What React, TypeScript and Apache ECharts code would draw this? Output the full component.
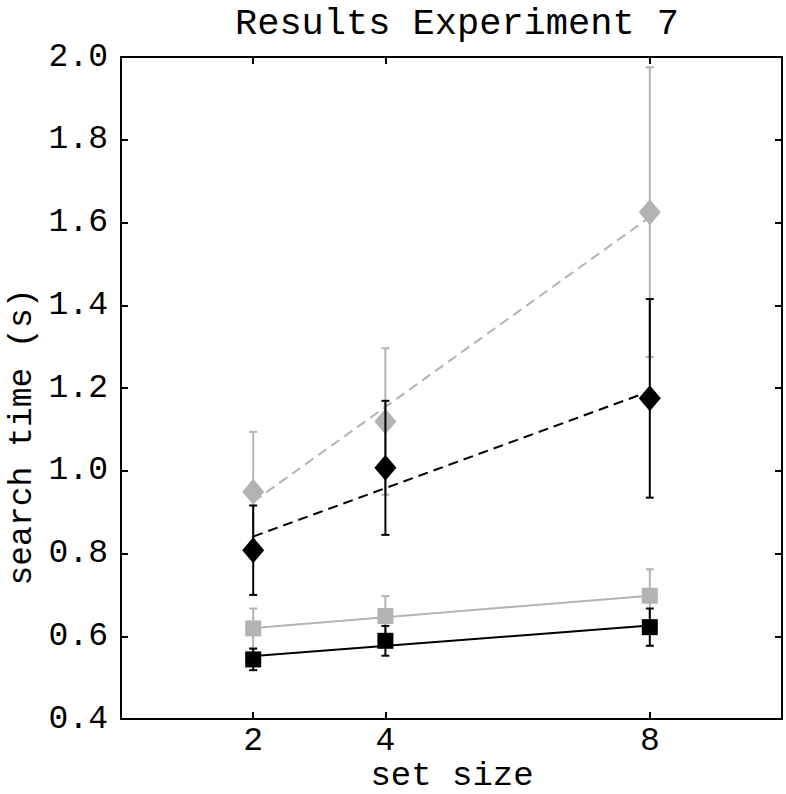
import React, { useEffect, useRef } from "react";
import * as echarts from "echarts";

const setSizes = [2, 4, 8];
const xTickValues = [2, 4, 8];

const blackSquareMean = [0.544, 0.589, 0.622];
const blackSquareErr = [0.026, 0.036, 0.045];
const graySquareMean = [0.619, 0.649, 0.698];
const graySquareErr = [0.048, 0.048, 0.064];
const blackDiamondMean = [0.808, 1.007, 1.175];
const blackDiamondErr = [0.108, 0.162, 0.24];
const grayDiamondMean = [0.949, 1.119, 1.625];
const grayDiamondErr = [0.145, 0.177, 0.35];

const fitX = [2, 8];
const blackSquareFit = [0.552, 0.626];
const graySquareFit = [0.62, 0.698];
const blackDiamondFit = [0.841, 1.192];
const grayDiamondFit = [0.925, 1.613];

const BLACK = "#000000";
const GRAY = "#b3b3b3";
const FONT = "Liberation Mono";

function errSeries(mean: number[], err: number[], color: string, z: number) {
  return {
    type: "custom",
    z,
    silent: true,
    data: setSizes.map((x, i) => [x, mean[i], err[i]]),
    encode: { x: 0, y: 1 },
    renderItem: (params: any, api: any) => {
      const x = api.value(0);
      const y = api.value(1);
      const e = api.value(2);
      const top = api.coord([x, y + e]);
      const bot = api.coord([x, y - e]);
      const half = 4;
      const style = { stroke: color, lineWidth: 2 };
      return {
        type: "group",
        children: [
          { type: "line", shape: { x1: top[0], y1: top[1], x2: bot[0], y2: bot[1] }, style },
          { type: "line", shape: { x1: top[0] - half, y1: top[1], x2: top[0] + half, y2: top[1] }, style },
          { type: "line", shape: { x1: bot[0] - half, y1: bot[1], x2: bot[0] + half, y2: bot[1] }, style },
        ],
      };
    },
  };
}

function fitSeries(fit: number[], color: string, dashed: boolean, z: number) {
  return {
    type: "line",
    z,
    silent: true,
    symbol: "none",
    data: fitX.map((x, i) => [x, fit[i]]),
    lineStyle: { color, width: 2, type: dashed ? [10, 6] : "solid" },
  };
}

function markerSeries(mean: number[], color: string, symbol: string, size: any, z: number) {
  return {
    type: "scatter",
    z,
    silent: true,
    symbol,
    symbolSize: size,
    data: setSizes.map((x, i) => [x, mean[i]]),
    itemStyle: { color, opacity: 1 },
  };
}

export default function App() {
  const ref = useRef<HTMLDivElement>(null);
  useEffect(() => {
    if (!ref.current) return;
    const chart = echarts.init(ref.current, null, { renderer: "svg" });
    const axisLineStyle = { color: BLACK, width: 2 };
    const labelStyle = { fontFamily: FONT, fontSize: 33, color: BLACK };
    chart.setOption({
      animation: false,
      backgroundColor: "#ffffff",
      title: {
        text: "Results Experiment 7",
        left: 452,
        top: 0,
        textAlign: "center",
        textStyle: { fontFamily: FONT, fontSize: 37, fontWeight: "normal", color: BLACK },
      },
      graphic: [
        {
          type: "text",
          x: 22,
          y: 437,
          rotation: Math.PI / 2,
          style: {
            text: "search time (s)",
            fontFamily: FONT,
            fontSize: 33,
            fill: BLACK,
            textAlign: "center",
            textVerticalAlign: "middle",
          },
        },
        {
          type: "text",
          x: 452,
          y: 776,
          style: {
            text: "set size",
            fontFamily: FONT,
            fontSize: 34,
            fill: BLACK,
            textAlign: "center",
            textVerticalAlign: "middle",
          },
        },
      ],
      grid: { left: 121, right: 4, top: 57, bottom: 75, containLabel: false, outerBoundsMode: "none" },
      xAxis: [
        {
          type: "value",
          min: 0,
          max: 10,
          position: "bottom",
          axisLine: { show: true, onZero: false, lineStyle: axisLineStyle },
          axisTick: { show: true, inside: true, length: 7, customValues: xTickValues, lineStyle: axisLineStyle },
          axisLabel: { customValues: xTickValues, margin: 6, ...labelStyle },
          splitLine: { show: false },
        },
        {
          type: "value",
          min: 0,
          max: 10,
          position: "top",
          axisLine: { show: true, onZero: false, lineStyle: axisLineStyle },
          axisTick: { show: true, inside: true, length: 7, customValues: xTickValues, lineStyle: axisLineStyle },
          axisLabel: { show: false },
          splitLine: { show: false },
        },
      ],
      yAxis: [
        {
          type: "value",
          min: 0.4,
          max: 2.0,
          interval: 0.2,
          position: "left",
          axisLine: { show: true, onZero: false, lineStyle: axisLineStyle },
          axisTick: { show: true, inside: true, length: 7, lineStyle: axisLineStyle },
          axisLabel: { margin: 13, formatter: (v: number) => v.toFixed(1), ...labelStyle },
          splitLine: { show: false },
        },
        {
          type: "value",
          min: 0.4,
          max: 2.0,
          interval: 0.2,
          position: "right",
          axisLine: { show: true, onZero: false, lineStyle: axisLineStyle },
          axisTick: { show: true, inside: true, length: 7, lineStyle: axisLineStyle },
          axisLabel: { show: false },
          splitLine: { show: false },
        },
      ],
      series: [
        errSeries(grayDiamondMean, grayDiamondErr, GRAY, 2),
        fitSeries(grayDiamondFit, GRAY, true, 3),
        markerSeries(grayDiamondMean, GRAY, "diamond", [22, 26], 4),
        errSeries(graySquareMean, graySquareErr, GRAY, 2),
        fitSeries(graySquareFit, GRAY, false, 3),
        markerSeries(graySquareMean, GRAY, "rect", 16, 4),
        errSeries(blackDiamondMean, blackDiamondErr, BLACK, 5),
        fitSeries(blackDiamondFit, BLACK, true, 6),
        markerSeries(blackDiamondMean, BLACK, "diamond", [22, 26], 7),
        errSeries(blackSquareMean, blackSquareErr, BLACK, 5),
        fitSeries(blackSquareFit, BLACK, false, 6),
        markerSeries(blackSquareMean, BLACK, "rect", 16, 7),
      ],
    });
    return () => chart.dispose();
  }, []);
  return (
    <div
      ref={ref}
      style={{ position: "absolute", left: 0, top: 0, width: 786, height: 794 }}
    />
  );
}
